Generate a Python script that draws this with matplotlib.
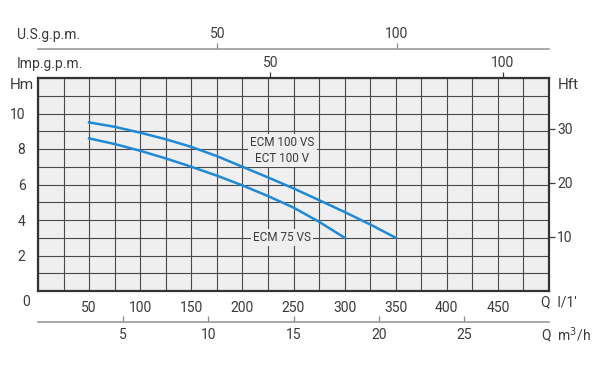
import numpy as np
import matplotlib
matplotlib.use("Agg")
import matplotlib.pyplot as plt
from matplotlib.ticker import MultipleLocator, FuncFormatter

plt.rcParams['font.family'] = ['Roboto', 'DejaVu Sans']

# flow in l/min, head in m
q_100 = [50, 75, 100, 125, 150, 175, 200, 225, 250, 275, 300, 325, 350]
h_100 = [9.5, 9.25, 8.92, 8.55, 8.12, 7.6, 7.0, 6.4, 5.78, 5.12, 4.45, 3.75, 3.0]
q_75 = [50, 75, 100, 125, 150, 175, 200, 225, 250, 275, 300]
h_75 = [8.6, 8.28, 7.9, 7.47, 7.0, 6.5, 5.95, 5.35, 4.7, 3.9, 3.0]

q_labels = [50, 100, 150, 200, 250, 300, 350, 400, 450]
hm_labels = [2, 4, 6, 8, 10]
hft_ticks = [10, 20, 30]
imp_ticks = [50, 100]
us_ticks = [50, 100]
m3h_ticks = [5, 10, 15, 20, 25]

txt = '#3a3a3a'
blue = '#1e8ad6'
fs = 10

fig = plt.figure(figsize=(6, 3.75), dpi=100)
ax = fig.add_axes([38/600, 1 - 291/375, 511/600, 213/375])
ax.set_facecolor('#efefef')
ax.set_xlim(0, 500)
ax.set_ylim(0, 12)

ax.plot(q_100, h_100, color=blue, lw=1.8, zorder=3)
ax.plot(q_75, h_75, color=blue, lw=1.8, zorder=3)

# grid
ax.xaxis.set_major_locator(MultipleLocator(25))
ax.yaxis.set_major_locator(MultipleLocator(1))
ax.xaxis.set_major_formatter(FuncFormatter(lambda v, p: f'{v:.0f}' if round(v) in q_labels else ''))
ax.yaxis.set_major_formatter(FuncFormatter(lambda v, p: f'{v:.0f}' if round(v) in hm_labels else ''))
ax.grid(True, color='#4a4a4a', lw=0.8)
ax.tick_params(length=0, labelsize=fs, colors=txt, pad=7)
ax.tick_params(axis='y', pad=9)
for s in ax.spines.values():
    s.set_color('#333333')
    s.set_linewidth(1.6)

# right axis in feet
ay = ax.secondary_yaxis('right', functions=(lambda m: m / 0.3048, lambda f: f * 0.3048))
ay.set_yticks(hft_ticks)
ay.tick_params(length=4, width=0.9, colors=txt, labelsize=fs, pad=2)
ay.spines['right'].set_visible(False)

# top axis Imp.g.p.m.
ai = ax.secondary_xaxis('top', functions=(lambda l: l / 4.54609, lambda g: g * 4.54609))
ai.set_xticks(imp_ticks)
ai.tick_params(length=4, width=0.9, colors=txt, labelsize=fs, pad=2)
ai.spines['top'].set_visible(False)

# U.S.g.p.m. axis above
au = ax.secondary_xaxis(1.136, functions=(lambda l: l / 3.51, lambda g: g * 3.51))
au.set_xticks(us_ticks)
au.tick_params(length=4, width=0.9, colors='#888888', labelcolor=txt, labelsize=fs, pad=2)
au.spines['top'].set_color('#999999')
au.spines['top'].set_linewidth(1.2)

# m3/h axis below
am = ax.secondary_xaxis(-0.146, functions=(lambda l: l * 0.06, lambda m: m / 0.06))
am.set_xticks(m3h_ticks)
am.tick_params(direction='in', length=4, width=0.9, colors='#888888', labelcolor=txt, labelsize=fs, pad=4)
am.spines['bottom'].set_color('#999999')
am.spines['bottom'].set_linewidth(1.2)

# labels
fig.text(17/600, 1 - 35/375, 'U.S.g.p.m.', fontsize=fs, color=txt, va='center')
fig.text(17/600, 1 - 64/375, 'Imp.g.p.m.', fontsize=fs, color=txt, va='center')
fig.text(22/600, 1 - 85/375, 'Hm', fontsize=11, color=txt, va='center', ha='center')
fig.text(568/600, 1 - 85/375, 'Hft', fontsize=11, color=txt, va='center', ha='center')
fig.text(26/600, 1 - 302/375, '0', fontsize=fs, color=txt, va='center', ha='center')
fig.text(541/600, 1 - 302/375, "Q  l/1'", fontsize=fs, color=txt, va='center')
fig.text(541/600, 1 - 335/375, 'Q  m$^3$/h', fontsize=fs, color=txt, va='center')

box = dict(facecolor='#efefef', edgecolor='none', pad=1.5)
ax.text(239, 7.92, 'ECM 100 VS\nECT 100 V', fontsize=8.5, color=txt, ha='center', va='center',
        linespacing=1.25, bbox=box, zorder=2.5)
ax.text(239, 3.0, 'ECM 75 VS', fontsize=8.5, color=txt, ha='center', va='center', bbox=box, zorder=2.5)

fig.savefig('out.png', dpi=100, facecolor='white')
